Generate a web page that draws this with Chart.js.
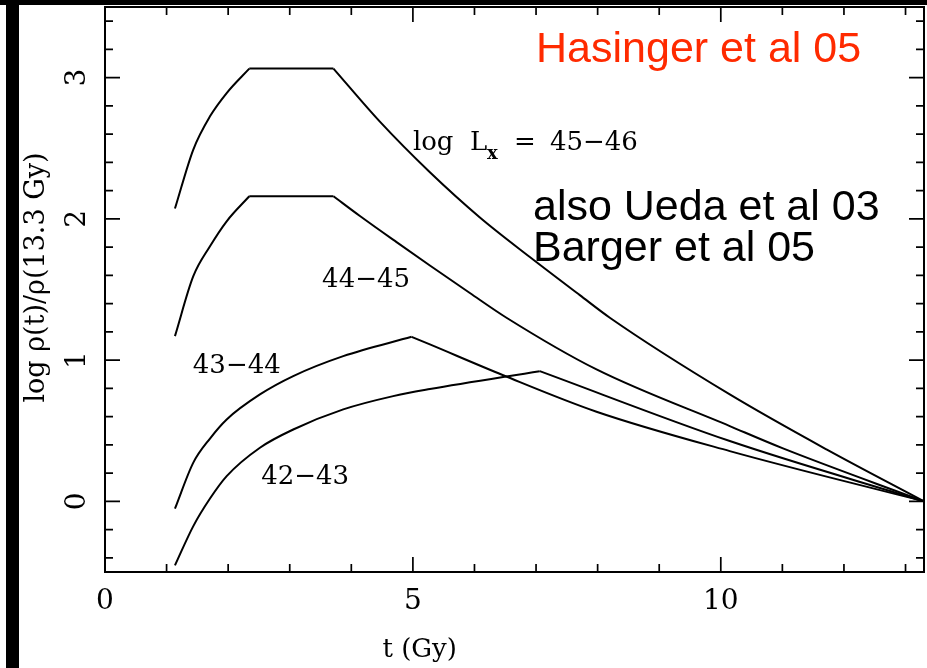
<!DOCTYPE html>
<html>
<head>
<meta charset="utf-8">
<script src="https://cdn.jsdelivr.net/npm/chart.js@4/dist/chart.umd.min.js"></script>
<style>
  html, body { margin: 0; padding: 0; background: #fff; }
  #wrap { position: relative; width: 927px; height: 668px; overflow: hidden; }
  #c { position: absolute; left: 0; top: 0; }
  .bar { position: absolute; background: #000; }
</style>
</head>
<body>
<div id="wrap">
  <canvas id="c" width="927" height="668"></canvas>
  <div class="bar" style="left:0;top:0;width:927px;height:5px"></div>
  <div class="bar" style="left:6px;top:0;width:13px;height:668px"></div>
</div>
<script>
// Comoving density evolution by X-ray luminosity class (t in Gyr)
const t4546 = [1.136, 1.434, 1.705, 1.976, 2.343, 3.71, 4.46, 5.276, 6.088, 6.899, 7.711, 8.198, 10.146, 11.716, 13.3];
const r4546 = [2.073, 2.491, 2.726, 2.891, 3.064, 3.064, 2.69, 2.33, 2.01, 1.73, 1.46, 1.30, 0.757, 0.368, 0.0];
const kinks4546 = [2.343, 3.71];

const t4445 = [1.136, 1.434, 1.705, 1.976, 2.343, 3.71, 4.14, 4.735, 5.276, 5.925, 6.52, 7.982, 10.146, 11.01, 13.3];
const r4445 = [1.170, 1.594, 1.806, 1.983, 2.160, 2.160, 2.02, 1.835, 1.67, 1.475, 1.30, 0.934, 0.533, 0.375, 0.0];
const kinks4445 = [2.343, 3.71];

const t4344 = [1.136, 1.434, 1.705, 1.976, 2.516, 3.057, 3.869, 4.979, 5.276, 6.466, 7.982, 10.146, 13.3];
const r4344 = [-0.052, 0.274, 0.445, 0.580, 0.757, 0.887, 1.028, 1.165, 1.111, 0.893, 0.635, 0.356, 0.0];
const kinks4344 = [4.979];

const t4243 = [1.136, 1.434, 1.705, 1.976, 2.516, 3.057, 3.869, 4.68, 5.276, 7.06, 10.146, 13.3];
const r4243 = [-0.453, -0.175, 0.02, 0.179, 0.380, 0.509, 0.651, 0.745, 0.795, 0.922, 0.427, 0.0];
const kinks4243 = [7.06];

const seriesNames = ['45-46', '44-45', '43-44', '42-43'];
const xTickValues = [0, 5, 10];
const xTickLabels = ['0', '5', '10'];
const yTickValues = [0, 1, 2, 3];
const yTickLabels = ['0', '1', '2', '3'];
const xTitle = 't (Gy)';
const yTitle = 'log \u03C1(t)/\u03C1(13.3 Gy)';

const SERIF = '"DejaVu Serif", serif';
const SANS = '"Liberation Sans", Arial, sans-serif';

// Split a curve at its kinks so each smooth stretch is interpolated on its own
function pieces(t, r, kinks) {
  const out = [];
  let cur = [];
  t.forEach((v, i) => {
    cur.push({ x: v, y: r[i] });
    if (kinks.includes(v)) {
      out.push(cur);
      cur = [{ x: v, y: r[i] }];
    }
  });
  out.push(cur);
  return out;
}

const mkSets = (name, t, r, kinks) => pieces(t, r, kinks).map(seg => ({
  label: name,
  data: seg,
  showLine: true,
  borderColor: '#000',
  borderWidth: 2,
  pointRadius: 0,
  cubicInterpolationMode: 'monotone',
  fill: false
}));

// Frame with inward ticks on all four sides, tick labels, titles and annotations
const framePlugin = {
  id: 'frame',
  afterDatasetsDraw(chart) {
    const { ctx, chartArea: a, scales: { x, y } } = chart;
    ctx.save();
    ctx.strokeStyle = '#000';
    ctx.lineWidth = 2;
    ctx.strokeRect(a.left, a.top, a.right - a.left, a.bottom - a.top);

    ctx.lineWidth = 1.7;
    ctx.beginPath();
    for (let v = 1; v <= 13; v++) {
      const p = x.getPixelForValue(v);
      const L = v % 5 === 0 ? 15 : 8;
      ctx.moveTo(p, a.bottom); ctx.lineTo(p, a.bottom - L);
      ctx.moveTo(p, a.top); ctx.lineTo(p, a.top + L);
    }
    for (let i = -2; i <= 17; i++) {
      const p = y.getPixelForValue(i * 0.2);
      const L = i % 5 === 0 ? 15 : 8;
      ctx.moveTo(a.left, p); ctx.lineTo(a.left + L, p);
      ctx.moveTo(a.right, p); ctx.lineTo(a.right - L, p);
    }
    ctx.stroke();

    // tick labels
    ctx.fillStyle = '#000';
    ctx.font = '28px ' + SERIF;
    ctx.textAlign = 'center';
    ctx.textBaseline = 'alphabetic';
    xTickValues.forEach((v, i) => {
      ctx.fillText(xTickLabels[i], x.getPixelForValue(v), a.bottom + 37);
    });
    yTickValues.forEach((v, i) => {
      ctx.save();
      ctx.translate(a.left - 20, y.getPixelForValue(v));
      ctx.rotate(-Math.PI / 2);
      ctx.fillText(yTickLabels[i], 0, 0);
      ctx.restore();
    });

    // axis titles
    ctx.textBaseline = 'middle';
    ctx.font = '26px ' + SERIF;
    ctx.fillText(xTitle, x.getPixelForValue(5.11), 650);
    ctx.save();
    ctx.font = '27px ' + SERIF;
    ctx.translate(37, y.getPixelForValue(1.585));
    ctx.rotate(-Math.PI / 2);
    ctx.fillText(yTitle, 0, 0);
    ctx.restore();

    // curve labels
    ctx.font = '26px ' + SERIF;
    ctx.textBaseline = 'middle';
    ctx.fillText('44\u221245', x.getPixelForValue(4.24), y.getPixelForValue(1.565));
    ctx.fillText('43\u221244', x.getPixelForValue(2.14), y.getPixelForValue(0.96));
    ctx.fillText('42\u221243', x.getPixelForValue(3.25), y.getPixelForValue(0.17));

    // log L_x = 45-46
    const lx = x.getPixelForValue(5.0), ly = y.getPixelForValue(2.49);
    ctx.textAlign = 'left';
    ctx.textBaseline = 'alphabetic';
    ctx.fillText('log', lx, ly);
    ctx.fillText('L', lx + 57, ly);
    ctx.fillText('=', lx + 101, ly);
    ctx.fillText('45\u221246', lx + 137, ly);
    ctx.font = 'bold 18px ' + SERIF;
    ctx.fillText('x', lx + 74, ly + 9);

    // reference notes
    ctx.font = '43px ' + SANS;
    ctx.fillStyle = '#ff2a00';
    ctx.fillText('Hasinger et al 05', x.getPixelForValue(7.0), y.getPixelForValue(3.113));
    ctx.fillStyle = '#000';
    ctx.fillText('also Ueda et al 03', x.getPixelForValue(6.95), y.getPixelForValue(1.99));
    ctx.fillText('Barger et al 05', x.getPixelForValue(6.95), y.getPixelForValue(1.70));
    ctx.restore();
  }
};

new Chart(document.getElementById('c'), {
  type: 'scatter',
  data: {
    datasets: [
      ...mkSets(seriesNames[0], t4546, r4546, kinks4546),
      ...mkSets(seriesNames[1], t4445, r4445, kinks4445),
      ...mkSets(seriesNames[2], t4344, r4344, kinks4344),
      ...mkSets(seriesNames[3], t4243, r4243, kinks4243)
    ]
  },
  options: {
    responsive: false,
    animation: false,
    layout: { padding: { left: 105, top: 7, right: 3, bottom: 96 } },
    plugins: { legend: { display: false }, tooltip: { enabled: false } },
    scales: {
      x: { type: 'linear', min: 0, max: 13.3, display: false },
      y: { type: 'linear', min: -0.5, max: 3.5, display: false }
    }
  },
  plugins: [framePlugin]
});
</script>
</body>
</html>
